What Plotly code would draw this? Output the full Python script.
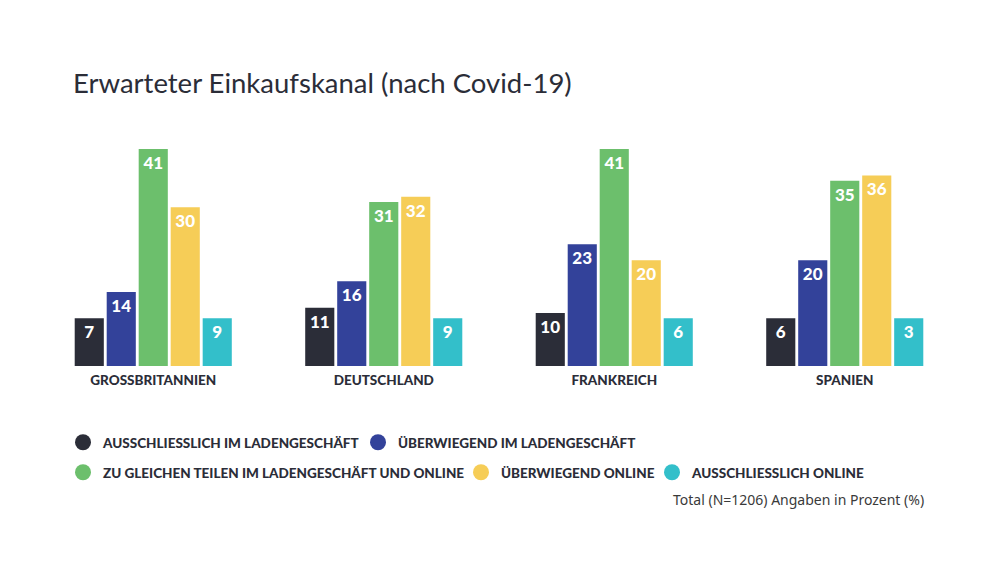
import plotly.graph_objects as go

countries = ["GROSSBRITANNIEN", "DEUTSCHLAND", "FRANKREICH", "SPANIEN"]
series_names = [
    "AUSSCHLIESSLICH IM LADENGESCHÄFT",
    "ÜBERWIEGEND IM LADENGESCHÄFT",
    "ZU GLEICHEN TEILEN IM LADENGESCHÄFT UND ONLINE",
    "ÜBERWIEGEND ONLINE",
    "AUSSCHLIESSLICH ONLINE",
]
ausschl_laden = [7, 11, 10, 6]
ueberw_laden = [14, 16, 23, 20]
gleich = [41, 31, 41, 35]
ueberw_online = [30, 32, 20, 36]
ausschl_online = [9, 9, 6, 3]
series_values = [ausschl_laden, ueberw_laden, gleich, ueberw_online, ausschl_online]
colors = ["#2b2d38", "#33429a", "#6cbf6c", "#f6cd57", "#33bfca"]
MIN_VISIBLE = 9  # small values are drawn with a minimum bar height

DARK = "#2b2d38"
FONT = "Lato"

fig = go.Figure()
for name, vals, col in zip(series_names, series_values, colors):
    fig.add_trace(go.Bar(
        x=countries,
        y=[max(v, MIN_VISIBLE) for v in vals],
        text=[str(v) for v in vals],
        textposition="inside",
        insidetextanchor="end",
        constraintext="none",
        textfont=dict(family=FONT, size=17, color="white", weight=900),
        marker=dict(color=col, line=dict(width=0)),
        showlegend=False,
        hoverinfo="skip",
    ))

legend_ids = ["legend", "legend", "legend2", "legend3", "legend4"]
for name, col, lg in zip(series_names, colors, legend_ids):
    fig.add_trace(go.Scatter(
        x=[None], y=[None], mode="markers", name=name,
        marker=dict(color=col, size=18, symbol="circle"),
        legend=lg, showlegend=True,
    ))

legend_font = dict(family=FONT, size=13.5, color=DARK, weight=900)


def legend_box(x_px, y_px, **kw):
    d = dict(
        orientation="h", xref="container", yref="container",
        x=x_px / 1000, y=1 - y_px / 580, xanchor="left", yanchor="top",
        font=legend_font, bgcolor="rgba(0,0,0,0)",
    )
    d.update(kw)
    return d


fig.update_layout(
    width=1000, height=580,
    paper_bgcolor="white", plot_bgcolor="white",
    margin=dict(l=38, r=40, t=140, b=214),
    barmode="group", bargap=0.306, bargroupgap=0.09,
    title=dict(
        text="Erwarteter Einkaufskanal (nach Covid-19)",
        font=dict(family=FONT, size=27.5, color=DARK),
        x=0.073, xanchor="left", xref="container",
        y=1 - 83 / 580, yanchor="middle", yref="container",
    ),
    xaxis=dict(
        showgrid=False, zeroline=False, showline=False, ticks="",
        tickfont=dict(family=FONT, size=13.5, color=DARK, weight=900),
        ticklabelstandoff=4,
    ),
    yaxis=dict(range=[0, 42.7], visible=False, showgrid=False, zeroline=False),
    legend=legend_box(63, 427, entrywidth=250, entrywidthmode="pixels"),
    legend2=legend_box(63, 457),
    legend3=legend_box(461, 457),
    legend4=legend_box(652, 457),
    annotations=[dict(
        text="Total (N=1206) Angaben in Prozent (%)",
        xref="paper", yref="paper",
        x=(926 - 38) / 922, y=-(499 - 366) / 226,
        showarrow=False, xanchor="right", yanchor="middle",
        font=dict(family="Noto Sans", size=14, color="#3a3a3a"),
    )],
)

fig.write_html("out.html", post_script="document.body.style.margin='0';",
               config={"displayModeBar": False})
